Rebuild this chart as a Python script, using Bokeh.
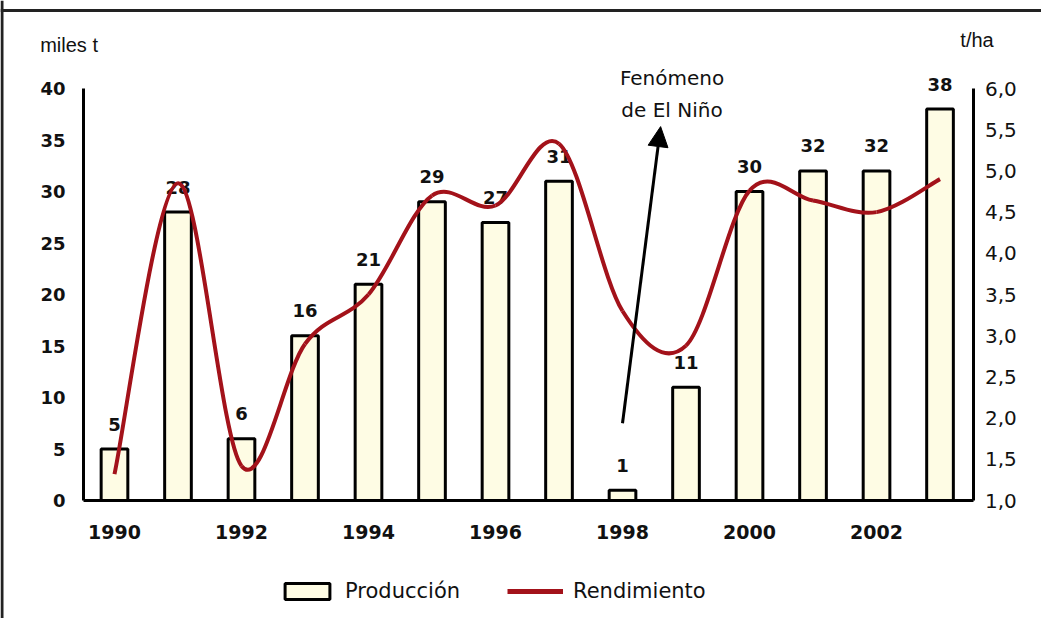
from bokeh.plotting import figure
from bokeh.models import (Range1d, LinearAxis, FixedTicker, CustomJSTickFormatter,
                          ColumnDataSource, Legend, LegendItem, Label, Arrow, NormalHead, Span)
from bokeh.embed import file_html
from bokeh.resources import INLINE
from bokeh.core.properties import value

# ---- data ----
years = [1990, 1991, 1992, 1993, 1994, 1995, 1996, 1997, 1998, 1999, 2000, 2001, 2002, 2003]
produccion = [5, 28, 6, 16, 21, 29, 27, 31, 1, 11, 30, 32, 32, 38]          # miles t
rendimiento = [1.32, 4.85, 1.42, 2.9, 3.5, 4.7, 4.58, 5.33, 3.3, 2.88, 4.76, 4.64, 4.5, 4.9]  # t/ha
x_ticks = [1990, 1992, 1994, 1996, 1998, 2000, 2002]
left_ticks = [0, 5, 10, 15, 20, 25, 30, 35, 40]
right_ticks = [1.0, 1.5, 2.0, 2.5, 3.0, 3.5, 4.0, 4.5, 5.0, 5.5, 6.0]
annot_lines = ["Fenómeno", "de El Niño"]

# ---- layout constants ----
W, H = 1041, 618
BAR_W = 0.42
RED = "#A3121A"
BOLD_FONT = "DejaVu Sans"
REG_FONT = "DejaVu Sans"
X_LO, X_HI = 1988.205, 2004.598
Y_LO, Y_HI = -11.456, 48.544
AX_LEFT_X, AX_RIGHT_X = 1989.512, 2003.52

p = figure(width=W, height=H, output_backend="svg", toolbar_location=None,
           x_range=Range1d(X_LO, X_HI), y_range=Range1d(Y_LO, Y_HI),
           min_border=0, x_axis_location=None, y_axis_location=None)
p.outline_line_color = None
p.grid.visible = False
p.background_fill_color = "white"
p.border_fill_color = "white"

p.extra_y_ranges = {"rend": Range1d(1.0 + Y_LO / 8.0, 1.0 + Y_HI / 8.0)}

def style_axis(ax, font, size, bold):
    ax.axis_line_width = 3
    ax.axis_line_color = "black"
    ax.major_tick_line_color = None
    ax.minor_tick_line_color = None
    ax.major_label_text_font = font
    ax.major_label_text_font_size = size
    ax.major_label_text_font_style = "bold" if bold else "normal"
    ax.major_label_text_color = "#111111"

left = LinearAxis(ticker=FixedTicker(ticks=left_ticks), bounds=(0, 40), fixed_location=AX_LEFT_X)
style_axis(left, BOLD_FONT, "18px", True)
left.major_label_standoff = 12
p.add_layout(left, "left")

right = LinearAxis(y_range_name="rend", ticker=FixedTicker(ticks=right_ticks), bounds=(1.0, 6.0),
                   fixed_location=AX_RIGHT_X,
                   formatter=CustomJSTickFormatter(code="return tick.toFixed(1).replace('.', ',');"))
style_axis(right, REG_FONT, "20px", False)
right.major_label_standoff = 6
p.add_layout(right, "right")

bottom = LinearAxis(ticker=FixedTicker(ticks=x_ticks), bounds=(AX_LEFT_X, AX_RIGHT_X), fixed_location=0)
style_axis(bottom, BOLD_FONT, "19px", True)
bottom.major_label_standoff = 18
p.add_layout(bottom, "below")

# outer frame lines (left and top edges of the original figure box)
p.add_layout(Span(location=X_LO + 1.5 / 63.5, dimension="height", line_color="#222222", line_width=3))
p.add_layout(Span(location=Y_HI - 10 / 10.3, dimension="width", line_color="#222222", line_width=3))

# bars
src = ColumnDataSource(dict(x=years, top=produccion, lbl=[str(v) for v in produccion]))
bars = p.vbar(x="x", top="top", width=BAR_W, bottom=0, source=src,
              fill_color="#FEFCE4", line_color="black", line_width=3)
p.text(x="x", y="top", text="lbl", source=src, text_align="center", text_baseline="middle",
       y_offset=-25, text_font=value(BOLD_FONT), text_font_style="bold", text_font_size="18px",
       text_color="#111111")

# smooth yield line (Catmull-Rom through the data points, drawn as bezier segments)
n = len(years)
x0, y0, x1, y1, cx0, cy0, cx1, cy1 = [], [], [], [], [], [], [], []
for i in range(n - 1):
    pm = max(i - 1, 0)
    pp = min(i + 2, n - 1)
    x0.append(years[i]); y0.append(rendimiento[i])
    x1.append(years[i + 1]); y1.append(rendimiento[i + 1])
    cx0.append(years[i] + (years[i + 1] - years[pm]) / 6.0)
    cy0.append(rendimiento[i] + (rendimiento[i + 1] - rendimiento[pm]) / 6.0)
    cx1.append(years[i + 1] - (years[pp] - years[i]) / 6.0)
    cy1.append(rendimiento[i + 1] - (rendimiento[pp] - rendimiento[i]) / 6.0)
p.bezier(x0=x0, y0=y0, x1=x1, y1=y1, cx0=cx0, cy0=cy0, cx1=cx1, cy1=cy1,
         y_range_name="rend", line_color=RED, line_width=4)
leg_line = p.line(x=years, y=rendimiento, y_range_name="rend", line_color=RED, line_width=5)
leg_line.visible = False

# annotation
p.add_layout(Arrow(x_start=1998.0, y_start=7.5, x_end=1998.6, y_end=36.3,
                   line_width=3, line_color="black",
                   end=NormalHead(size=20, fill_color="black", line_color="black")))
p.add_layout(Label(x=1998.78, y=41.0, text=annot_lines[0], text_align="center", text_baseline="middle",
                   text_font=REG_FONT, text_font_size="20px", text_color="#111111"))
p.add_layout(Label(x=1998.78, y=37.9, text=annot_lines[1], text_align="center", text_baseline="middle",
                   text_font=REG_FONT, text_font_size="20px", text_color="#111111"))

# axis unit labels
p.add_layout(Label(x=1988.83, y=44.2, text="miles t", text_align="left", text_baseline="middle",
                   text_font="Liberation Sans", text_font_size="20px", text_color="#111111"))
p.add_layout(Label(x=2003.32, y=44.7, text="t/ha", text_align="left", text_baseline="middle",
                   text_font="Liberation Sans", text_font_size="20px", text_color="#111111"))

legend = Legend(items=[LegendItem(label="Producción", renderers=[bars]),
                       LegendItem(label="Rendimiento", renderers=[leg_line])],
                orientation="horizontal", location=(279, 15),
                label_text_font=REG_FONT, label_text_font_size="21px", label_text_color="#111111",
                glyph_width=56, glyph_height=20, spacing=47, label_standoff=10,
                border_line_color=None, background_fill_alpha=0, margin=0, padding=4,
                inactive_fill_alpha=0)
p.add_layout(legend, "center")

open("out.html", "w").write(file_html(p, INLINE))
